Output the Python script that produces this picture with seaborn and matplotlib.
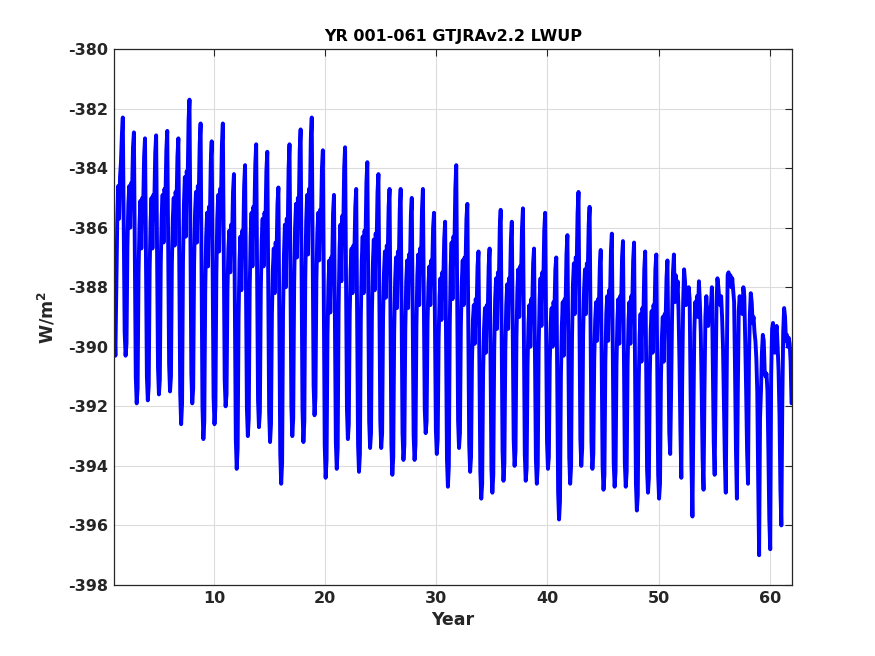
import numpy as np
import pandas as pd
import matplotlib
matplotlib.use("Agg")
import matplotlib.pyplot as plt
import seaborn as sns

# Monthly global-mean LWUP (W/m^2), one row per model year (Jan..Dec)
lwup_monthly = [
    [-389.3, -390.3, -388.0, -385.8, -384.6, -385.7, -384.3, -383.8, -382.9, -382.3, -385.9, -389.5],  # 1
    [-390.3, -389.9, -386.6, -385.2, -384.6, -386.0, -384.5, -384.8, -383.3, -382.8, -386.9, -391.0],  # 2
    [-391.9, -391.4, -387.5, -385.9, -385.1, -386.7, -385.0, -385.3, -383.6, -383.0, -387.0, -391.0],  # 3
    [-391.8, -391.3, -387.4, -385.8, -385.0, -386.7, -384.9, -385.2, -383.5, -382.9, -386.8, -390.7],  # 4
    [-391.6, -391.1, -387.2, -385.6, -384.9, -386.5, -384.7, -385.1, -383.4, -382.75, -386.7, -390.6],  # 5
    [-391.5, -391.0, -387.2, -385.7, -385.0, -386.6, -384.8, -385.2, -383.6, -383.0, -387.3, -391.6],  # 6
    [-392.6, -391.9, -387.1, -385.2, -384.3, -386.3, -384.1, -384.5, -382.4, -381.7, -386.3, -390.9],  # 7
    [-391.9, -391.4, -387.2, -385.5, -384.8, -386.5, -384.6, -385.0, -383.2, -382.5, -387.3, -392.0],  # 8
    [-393.1, -392.5, -388.1, -386.3, -385.5, -387.3, -385.3, -385.7, -383.8, -383.1, -387.4, -391.7],  # 9
    [-392.6, -392.0, -387.6, -385.7, -384.9, -386.8, -384.7, -385.1, -383.2, -382.5, -386.8, -391.1],  # 10
    [-392.0, -391.6, -388.1, -386.7, -386.1, -387.5, -385.9, -386.3, -384.8, -384.2, -388.6, -393.1],  # 11
    [-394.1, -393.4, -389.0, -387.1, -386.3, -388.1, -386.1, -386.5, -384.6, -383.9, -388.0, -392.1],  # 12
    [-393.0, -392.4, -388.1, -386.3, -385.5, -387.3, -385.3, -385.7, -383.9, -383.2, -387.5, -391.8],  # 13
    [-392.7, -392.2, -388.1, -386.4, -385.7, -387.3, -385.5, -385.9, -384.1, -383.45, -387.8, -392.2],  # 14
    [-393.2, -392.6, -388.9, -387.4, -386.7, -388.2, -386.5, -386.9, -385.2, -384.65, -389.1, -393.6],  # 15
    [-394.6, -393.9, -388.9, -386.9, -385.9, -388.0, -385.7, -386.2, -384.0, -383.2, -387.6, -392.0],  # 16
    [-393.0, -392.4, -387.9, -386.0, -385.2, -387.0, -385.0, -385.4, -383.4, -382.7, -387.4, -392.1],  # 17
    [-393.2, -392.5, -387.7, -385.8, -384.9, -386.9, -384.7, -385.1, -383.0, -382.3, -386.8, -391.3],  # 18
    [-392.3, -391.7, -387.8, -386.2, -385.5, -387.1, -385.4, -385.7, -384.0, -383.4, -388.3, -393.3],  # 19
    [-394.4, -393.8, -389.6, -387.9, -387.1, -388.85, -387.0, -387.3, -385.5, -384.9, -389.0, -393.2],  # 20
    [-394.1, -393.4, -388.7, -386.7, -385.9, -387.8, -385.6, -386.1, -384.0, -383.3, -387.7, -392.1],  # 21
    [-393.1, -392.6, -388.9, -387.4, -386.7, -388.2, -386.6, -386.9, -385.3, -384.7, -389.0, -393.3],  # 22
    [-394.2, -393.6, -389.0, -387.1, -386.3, -388.2, -386.1, -386.5, -384.5, -383.8, -388.2, -392.5],  # 23
    [-393.4, -392.9, -388.8, -387.2, -386.4, -388.1, -386.2, -386.6, -384.8, -384.2, -388.3, -392.5],  # 24
    [-393.4, -392.9, -389.0, -387.5, -386.8, -388.35, -386.6, -387.0, -385.3, -384.7, -389.0, -393.3],  # 25
    [-394.3, -393.7, -389.5, -387.8, -387.0, -388.7, -386.8, -387.2, -385.4, -384.7, -388.8, -392.9],  # 26
    [-393.8, -393.3, -389.4, -387.8, -387.1, -388.7, -386.9, -387.3, -385.6, -385.0, -388.9, -393.0],  # 27
    [-393.8, -393.3, -389.3, -387.6, -386.9, -388.6, -386.7, -387.1, -385.4, -384.7, -388.4, -392.1],  # 28
    [-392.9, -392.5, -389.2, -387.9, -387.3, -388.6, -387.1, -387.4, -386.0, -385.5, -389.1, -392.8],  # 29
    [-393.6, -393.1, -389.7, -388.3, -387.7, -389.1, -387.5, -387.8, -386.4, -385.8, -389.8, -393.8],  # 30
    [-394.7, -394.0, -389.3, -387.3, -386.5, -388.4, -386.3, -386.7, -384.7, -383.9, -388.2, -392.5],  # 31
    [-393.4, -392.9, -389.3, -387.8, -387.1, -388.6, -387.0, -387.3, -385.7, -385.2, -389.2, -393.3],  # 32
    [-394.2, -393.7, -390.5, -389.1, -388.6, -389.9, -388.4, -388.7, -387.3, -386.8, -390.5, -394.2],  # 33
    [-395.1, -394.6, -390.9, -389.4, -388.7, -390.2, -388.6, -388.9, -387.3, -386.7, -390.4, -394.1],  # 34
    [-394.9, -394.3, -390.1, -388.4, -387.7, -389.4, -387.5, -387.9, -386.0, -385.4, -389.5, -393.5],  # 35
    [-394.5, -393.9, -390.1, -388.6, -387.9, -389.4, -387.7, -388.0, -386.4, -385.8, -389.5, -393.1],  # 36
    [-394.0, -393.5, -389.7, -388.1, -387.4, -389.0, -387.3, -387.6, -386.0, -385.35, -389.5, -393.6],  # 37
    [-394.5, -394.1, -390.6, -389.2, -388.6, -390.0, -388.4, -388.7, -387.2, -386.7, -390.2, -393.8],  # 38
    [-394.6, -394.0, -390.0, -388.4, -387.7, -389.3, -387.5, -387.9, -386.1, -385.5, -389.4, -393.2],  # 39
    [-394.1, -393.7, -390.5, -389.2, -388.7, -390.0, -388.5, -388.8, -387.4, -387.0, -390.9, -394.9],  # 40
    [-395.8, -395.2, -391.0, -389.3, -388.5, -390.3, -388.4, -388.7, -386.9, -386.25, -390.0, -393.7],  # 41
    [-394.6, -394.0, -389.7, -387.9, -387.2, -388.9, -387.0, -387.3, -385.5, -384.8, -388.9, -393.1],  # 42
    [-394.0, -393.4, -389.6, -388.1, -387.4, -388.9, -387.2, -387.5, -385.9, -385.3, -389.2, -393.2],  # 43
    [-394.1, -393.6, -390.4, -389.1, -388.5, -389.8, -388.4, -388.7, -387.3, -386.75, -390.4, -394.0],  # 44
    [-394.8, -394.3, -390.5, -388.9, -388.3, -389.8, -388.1, -388.4, -386.8, -386.2, -390.0, -393.9],  # 45
    [-394.7, -394.2, -390.6, -389.1, -388.4, -389.9, -388.3, -388.6, -387.0, -386.45, -390.2, -393.9],  # 46
    [-394.7, -394.2, -390.6, -389.1, -388.5, -389.9, -388.3, -388.6, -387.1, -386.5, -390.6, -394.6],  # 47
    [-395.5, -395.0, -391.2, -389.6, -388.9, -390.5, -388.7, -389.1, -387.4, -386.8, -390.4, -394.1],  # 48
    [-394.9, -394.4, -390.9, -389.4, -388.8, -390.2, -388.6, -389.0, -387.4, -386.9, -390.6, -394.3],  # 49
    [-395.1, -394.6, -391.1, -389.7, -389.0, -390.5, -388.9, -389.2, -387.7, -387.1, -390.0, -392.9],  # 50
    [-393.6, -391.5, -389.0, -387.5, -386.9, -388.5, -387.6, -388.3, -387.8, -388.8, -390.5, -392.8],  # 51
    [-394.4, -391.0, -388.5, -387.4, -387.8, -388.6, -388.1, -388.3, -388.0, -388.4, -391.5, -394.0],  # 52
    [-395.7, -392.5, -389.5, -388.5, -388.8, -388.3, -389.0, -387.8, -388.5, -389.5, -391.5, -393.8],  # 53
    [-394.8, -391.5, -389.0, -388.3, -388.9, -389.3, -388.7, -389.1, -388.6, -388.0, -390.5, -393.2],  # 54
    [-394.3, -391.5, -388.5, -387.7, -388.0, -388.4, -388.6, -388.3, -389.0, -390.0, -391.8, -393.8],  # 55
    [-394.9, -391.0, -387.6, -387.5, -387.9, -387.6, -388.0, -387.7, -388.1, -388.5, -390.8, -393.5],  # 56
    [-395.1, -391.5, -388.8, -388.3, -388.7, -388.4, -388.9, -388.0, -388.3, -389.8, -391.5, -393.5],  # 57
    [-394.6, -390.5, -388.9, -388.2, -388.5, -389.2, -389.0, -389.5, -389.8, -390.4, -391.5, -394.5],  # 58
    [-397.0, -392.4, -391.5, -390.2, -389.6, -389.8, -390.8, -391.0, -390.9, -391.5, -393.5, -395.8],  # 59
    [-396.8, -391.0, -389.4, -389.2, -389.6, -390.2, -389.5, -389.3, -390.0, -390.8, -392.3, -394.8],  # 60
    [-396.0, -392.0, -389.5, -388.7, -389.0, -389.8, -389.6, -390.0, -389.7, -389.9, -390.5, -391.9],  # 61
]
model_years = list(range(1, 62))
months = list(range(12))

title_text = "YR 001-061 GTJRAv2.2 LWUP"
x_label = "Year"
y_label = r"W/m$^{\mathbf{2}}$"
y_ticks = list(range(-398, -379, 2))
x_ticks = [10, 20, 30, 40, 50, 60]

# long table
rows = []
for yr, vals in zip(model_years, lwup_monthly):
    for m, v in zip(months, vals):
        rows.append((yr + (m + 0.5) / 12.0, v))
df = pd.DataFrame(rows, columns=["time", "lwup"])

sns.set_theme(style="white")
plt.rcParams["font.family"] = ["DejaVu Sans"]
plt.rcParams["axes.unicode_minus"] = False
plt.rcParams["mathtext.default"] = "bf"

fig = plt.figure(figsize=(8.75, 6.56), dpi=100)
ax = fig.add_axes([114 / 875, 1 - 585 / 656, (792 - 114) / 875, (585 - 49) / 656])

sns.lineplot(data=df, x="time", y="lwup", ax=ax, color="#0000ff",
             linewidth=2.8, estimator=None, sort=False)

ax.set_xlim(1, 62)
ax.set_ylim(-398, -380)
ax.set_xticks(x_ticks)
ax.set_yticks(y_ticks)
ax.grid(True, color="#dcdcdc", linewidth=0.8)
ax.set_axisbelow(True)
for s in ax.spines.values():
    s.set_color("#262626")
    s.set_linewidth(0.9)
ax.tick_params(direction="in", length=5, width=0.8, color="#262626",
               top=True, right=True, labelsize=11.5, labelcolor="#262626", pad=4)
for lab in ax.get_xticklabels() + ax.get_yticklabels():
    lab.set_fontweight("bold")

ax.set_title(title_text, fontsize=11.5, fontweight="bold", color="black", pad=6)
ax.set_xlabel(x_label, fontsize=12.5, fontweight="bold", color="#262626", labelpad=4)
ax.set_ylabel(y_label, fontsize=12.5, fontweight="bold", color="#262626", labelpad=8)

fig.savefig("out.png", dpi=100, facecolor="white")
